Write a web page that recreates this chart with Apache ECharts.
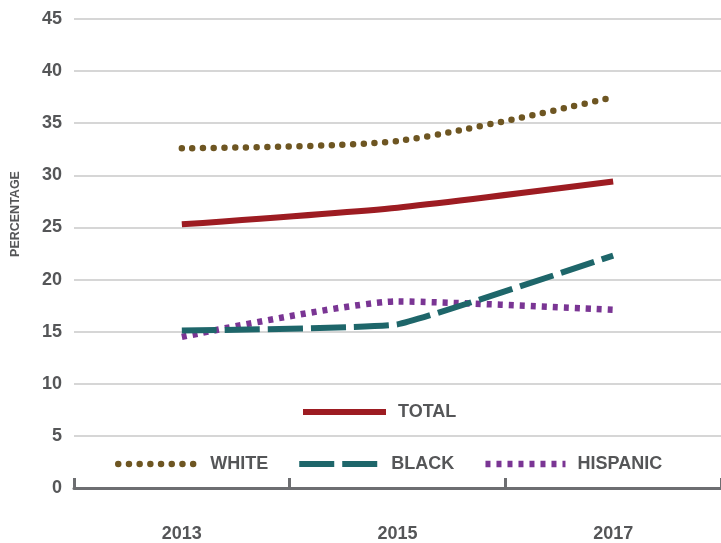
<!DOCTYPE html>
<html>
<head>
<meta charset="utf-8">
<script src="https://cdn.jsdelivr.net/npm/echarts@6/dist/echarts.min.js"></script>
<style>
html,body{margin:0;padding:0;background:#fff;}
#chart{width:721px;height:543px;}
</style>
</head>
<body>
<div id="chart"></div>
<script>
const years = ['2013', '2015', '2017'];
const total = [25.3, 26.9, 29.4];
const white = [32.6, 33.3, 37.5];
const black = [15.1, 15.7, 22.3];
const hispanic = [14.5, 17.9, 17.1];
const yTicks = [0, 5, 10, 15, 20, 25, 30, 35, 40, 45];

const TXT = '#555658';
const FONT = '"Liberation Sans", Arial, sans-serif';

const chart = echarts.init(document.getElementById('chart'), null, {renderer: 'canvas'});

const legendText = {color: TXT, fontFamily: FONT, fontWeight: 'bold', fontSize: 18, padding: [0, 0, 0, 7]};
const legendCommon = {
  padding: 0,
  itemHeight: 14,
  textStyle: legendText,
  selectedMode: false,
  itemStyle: {opacity: 0},
  lineStyle: {width: 'inherit', type: 'inherit', cap: 'inherit'}
};

chart.setOption({
  animation: false,
  backgroundColor: '#ffffff',
  grid: {left: 74, right: 0, top: 19, bottom: 53, containLabel: false},
  xAxis: {
    type: 'category',
    data: years,
    boundaryGap: true,
    axisLine: {show: true, lineStyle: {color: '#6d6e71', width: 3}},
    axisTick: {show: true, inside: true, length: 10, lineStyle: {color: '#6d6e71', width: 3}},
    axisLabel: {color: TXT, fontFamily: FONT, fontWeight: 'bold', fontSize: 18, margin: 37},
    splitLine: {show: false}
  },
  yAxis: {
    type: 'value',
    min: yTicks[0],
    max: yTicks[yTicks.length - 1],
    interval: 5,
    axisLine: {show: false},
    axisTick: {show: false},
    axisLabel: {color: TXT, fontFamily: FONT, fontWeight: 'bold', fontSize: 18, margin: 12},
    splitLine: {show: true, lineStyle: {color: '#c9c9c9', width: 1.5}}
  },
  legend: [
    Object.assign({}, legendCommon, {
      data: ['TOTAL'],
      left: 300, top: 403,
      itemWidth: 83
    }),
    Object.assign({}, legendCommon, {
      data: ['WHITE', 'BLACK', 'HISPANIC'],
      left: 115, top: 455,
      itemWidth: 80, itemGap: 28
    })
  ],
  graphic: [{
    type: 'text',
    x: 16, y: 214,
    rotation: Math.PI / 2,
    style: {
      text: 'PERCENTAGE',
      fill: TXT,
      font: 'bold 12.5px ' + FONT,
      align: 'center',
      verticalAlign: 'middle'
    }
  }],
  series: [
    {
      name: 'TOTAL', type: 'line', data: total, smooth: 0.2, symbol: 'none',
      lineStyle: {color: '#9d1c22', width: 6},
      itemStyle: {color: '#9d1c22'}, z: 4
    },
    {
      name: 'WHITE', type: 'line', data: white, smooth: 0.25, symbol: 'none',
      lineStyle: {color: '#6e5622', width: 6.5, type: [0, 10.7], cap: 'round'},
      itemStyle: {color: '#6e5622'}, z: 3
    },
    {
      name: 'BLACK', type: 'line', data: black, smooth: 0.1, symbol: 'none',
      lineStyle: {color: '#1e666a', width: 6, type: [35, 8]},
      itemStyle: {color: '#1e666a'}, z: 3
    },
    {
      name: 'HISPANIC', type: 'line', data: hispanic, smooth: 0.2, symbol: 'none',
      lineStyle: {color: '#7a3594', width: 6.5, type: [5, 6]},
      itemStyle: {color: '#7a3594'}, z: 2
    }
  ]
});
</script>
</body>
</html>
